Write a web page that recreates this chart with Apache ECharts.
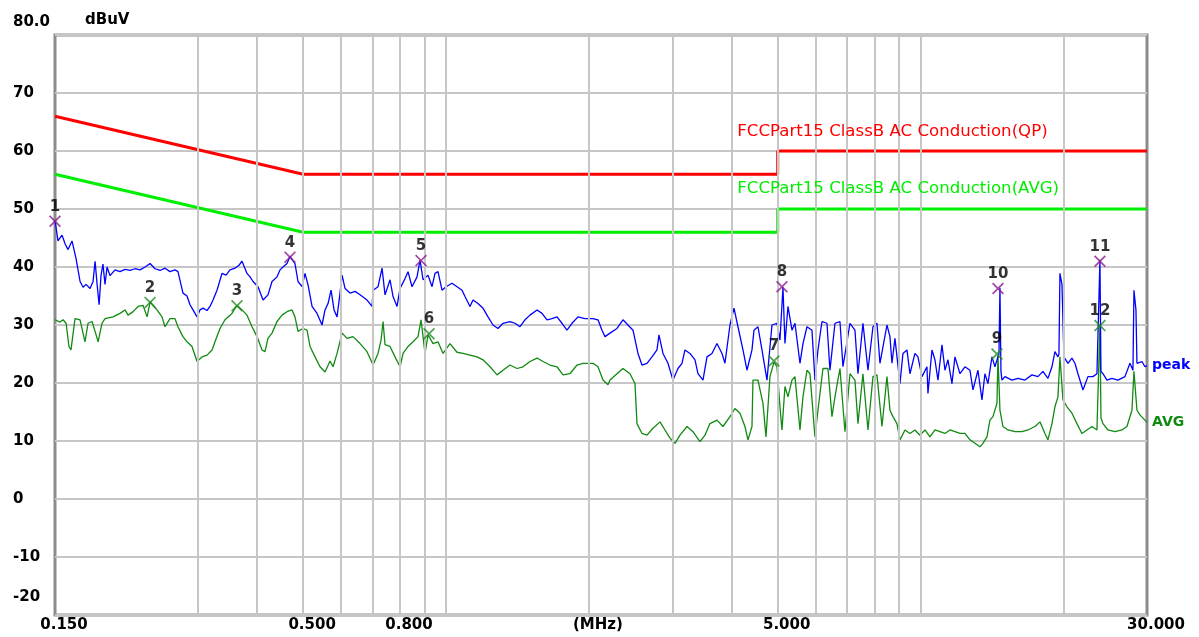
<!DOCTYPE html>
<html>
<head>
<meta charset="utf-8">
<title>Conducted emission</title>
<script src="https://cdn.jsdelivr.net/npm/echarts@6/dist/echarts.min.js"></script>
<style>
    html, body { margin: 0; padding: 0; background: #fff; }
    #chart { width: 1199px; height: 637px; }
</style>
</head>
<body>
<div id="chart"></div>
<script>
    // peak trace (MHz / dBuV)
    const peakFreq = [
        0.150,0.1522,0.1552,0.1575,0.1598,0.1629,0.1661,0.1694,0.1719,0.1744,
        0.1778,0.1804,0.1822,0.1840,0.1858,0.1875,0.1893,0.1912,0.1931,0.1959,
        0.2007,0.2056,0.2107,0.2159,0.2212,0.2266,0.2322,0.2379,0.2437,0.2497,
        0.2558,0.2621,0.2685,0.2724,0.2791,0.2846,0.2888,0.2930,0.2988,0.3031,
        0.3076,0.3136,0.3182,0.3229,0.3292,0.3373,0.3439,0.3506,0.3592,0.3663,
        0.3717,0.3808,0.3864,0.3921,0.4017,0.4116,0.4216,0.4299,0.4405,0.4469,
        0.4535,0.4624,0.4691,0.4806,0.4877,0.4973,0.5046,0.5120,0.5221,0.5349,
        0.5480,0.5560,0.5642,0.5725,0.5809,0.5894,0.5980,0.6039,0.6127,0.6277,
        0.6432,0.6590,0.6817,0.6985,0.7019,0.7191,0.7332,0.7439,0.7622,0.7734,
        0.7886,0.8001,0.8197,0.8318,0.8480,0.8689,0.8816,0.8946,0.9165,0.9345,
        0.9480,0.9619,0.9809,1.0001,1.0296,1.0549,1.0808,1.0966,1.1235,1.1400,
        1.1680,1.1966,1.2261,1.2562,1.2870,1.3186,1.3641,1.3976,1.4319,1.4670,
        1.5031,1.5551,1.5933,1.6323,1.6724,1.7135,1.7555,1.7986,1.8429,1.8973,
        1.9627,2.0405,2.0906,2.1316,2.1627,2.2158,2.2924,2.3601,2.4180,2.4775,
        2.5382,2.5880,2.6515,2.7167,2.7834,2.8104,2.8655,2.9359,3.0080,3.0818,
        3.1423,3.1882,3.2665,3.3467,3.3959,3.4793,3.5475,3.6346,3.7238,3.8153,
        3.8710,3.9661,4.0440,4.1232,4.2245,4.3073,4.4130,4.4559,4.5433,4.6325,
        4.7462,4.8627,4.9822,5.0549,5.1292,5.1790,5.2551,5.3582,5.4365,5.5700,
        5.6519,5.7626,5.9042,5.9904,6.0785,6.1976,6.3498,6.4426,6.6008,6.7629,
        6.8623,7.0991,7.2734,7.3803,7.5615,7.7472,7.9374,8.0930,8.2113,8.4953,
        8.6195,8.7040,8.8311,9.0480,9.1810,9.3610,9.4977,9.7309,9.8740,10.068,
        10.315,10.365,10.569,10.723,10.881,11.094,11.256,11.421,11.645,11.816,
        12.106,12.403,12.707,12.894,13.210,13.470,13.666,13.867,14.139,14.346,
        14.557,14.628,14.698,14.770,14.842,15.059,15.580,16.040,16.594,17.168,
        17.674,18.108,18.553,18.917,19.193,19.475,19.569,19.665,19.858,20.050,
        20.443,20.844,21.149,21.460,21.987,22.526,23.079,23.532,23.759,23.876,
        23.992,24.227,24.702,25.309,26.055,26.955,27.617,28.023,28.159,28.435,
        28.572,29.274,29.701,30.0
    ];
    const peakLevel = [
        48,44.5,45.5,44,43,44.5,41.5,37.5,36.5,37,
        36.3,37.5,41,37,33.5,38.5,40.5,37,40,38.5,
        39.5,39.2,39.6,39.4,39.7,39.5,40,40.6,39.7,39.4,
        39.8,39.2,39.5,39.2,35.5,35,33.5,32.6,31.4,32.6,
        32.9,32.5,33.2,34.3,36,38.9,38.6,39.5,39.8,40.3,
        41,38.9,38.3,37.5,36.6,34.3,35.2,37.5,38.3,39.5,
        40,40.6,41.8,40.6,37.5,36.6,38.9,36.9,33.2,32,
        30,32.6,33.7,36,32.6,31.4,35.5,38.6,36.3,35.5,
        35.8,35.2,34.3,33.2,36,36.6,39.8,35.2,37.8,34.9,
        33.2,36.3,38,39.2,36.6,38.3,41.2,37.8,38.6,36.6,
        38.9,39.2,36,36.6,37.2,36.6,36,34.9,33.2,34.3,
        33.7,32.9,31.4,30,29.4,30.3,30.6,30.3,29.7,30.9,
        31.7,32.6,32,30.9,31.1,31.4,30.3,29.1,30.3,31.4,
        31.1,31.1,30.9,29.1,28,28.6,29.4,30.9,30,29.1,
        25.1,23.1,23.4,24.5,25.7,28.3,25.1,23.4,20.5,22.5,
        23.4,25.7,25.1,24,21.6,20.5,24.5,25.1,26.8,25.1,
        23.4,30,32.9,29.7,25.7,22.2,25.7,29.1,29.7,25.7,
        20.5,30,30.3,27.4,36.5,26.8,33.2,29.1,30.3,23.4,
        26.8,29.7,29.1,20.5,25.7,30.6,30.3,22.2,30.3,30.6,
        22.8,30.3,29.1,21.6,30.3,22.2,29.7,30.3,23.4,30,
        28,23.4,27.7,19.9,25.1,25.7,21.6,25.1,24.5,21.1,
        22.8,18.2,25.7,24,20.5,26.6,22.2,24,19.9,24.5,
        21.6,22.8,22.2,18.8,22.2,17.1,21.6,19.9,24.5,22.8,
        24.5,25,36.4,22,20.5,21.1,20.5,20.8,20.5,21.4,
        21.1,22,20.8,22.8,25.4,24.5,25,38.9,37,24.5,
        23.4,24.3,23.4,21.6,18.8,21.1,21.1,21.6,21.6,41.2,
        22,21.6,20.5,20.8,20.5,21.1,23.4,22.2,36,32.6,
        23.4,23.7,22.8,23
    ];

    // average trace
    const avgFreq = [
        0.150,0.1537,0.1560,0.1583,0.1605,0.1621,0.1653,0.1694,0.1735,0.1761,
        0.1795,0.1822,0.1849,0.1884,0.1912,0.1988,0.2056,0.2107,0.2138,0.2191,
        0.2245,0.2299,0.2345,0.2379,0.2414,0.2461,0.2521,0.2558,0.2621,0.2685,
        0.2724,0.2791,0.2846,0.2916,0.2988,0.3061,0.3136,0.3213,0.3260,0.3340,
        0.3422,0.3540,0.3627,0.3717,0.3808,0.3902,0.3998,0.4096,0.4155,0.4216,
        0.4299,0.4405,0.4513,0.4624,0.4737,0.4806,0.4877,0.4997,0.5095,0.5170,
        0.5297,0.5427,0.5560,0.5697,0.5781,0.5894,0.6039,0.6187,0.6369,0.6590,
        0.6817,0.7019,0.7191,0.7297,0.7368,0.7439,0.7622,0.7809,0.8001,0.8119,
        0.8318,0.8521,0.8731,0.8859,0.9032,0.9165,0.9390,0.9619,0.9857,1.0196,
        1.0549,1.0860,1.1235,1.1624,1.1966,1.2380,1.2808,1.3186,1.3641,1.4113,
        1.4529,1.5031,1.5551,1.6010,1.6562,1.7135,1.7641,1.8250,1.8881,1.9439,
        2.0405,2.0906,2.1419,2.1945,2.2158,2.2924,2.3601,2.4416,2.5015,2.5260,
        2.5880,2.6515,2.7298,2.8240,2.8934,2.9644,3.0372,3.1118,3.2194,3.3145,
        3.4289,3.5131,3.5993,3.7238,3.8338,3.9661,4.0635,4.1633,4.2655,4.3282,
        4.4130,4.4344,4.5433,4.6549,4.7231,4.8155,4.9101,4.9822,5.0549,5.1044,
        5.1790,5.2551,5.3582,5.4365,5.5700,5.6519,5.7626,5.8469,5.9904,6.0785,
        6.2277,6.3806,6.5057,6.6008,6.7629,6.9289,7.0991,7.2734,7.3803,7.5615,
        7.7472,7.9374,8.0930,8.2918,8.4953,8.6195,8.7462,8.9177,9.0480,9.2701,
        9.4977,9.7309,9.9699,10.215,10.466,10.723,10.986,11.256,11.532,11.816,
        12.106,12.403,12.707,13.019,13.339,13.535,13.800,14.002,14.208,14.487,
        14.557,14.698,14.914,15.280,15.808,16.355,16.838,17.418,17.846,18.284,
        18.553,18.917,19.193,19.475,19.665,19.954,20.344,20.844,21.356,21.880,
        22.418,22.968,23.532,23.759,23.876,23.992,24.227,24.822,25.678,26.567,
        27.219,27.888,28.159,28.572,28.990,29.701,30.0
    ];
    const avgLevel = [
        30.9,30.5,30.9,30.3,26.3,25.7,31.1,30.9,27.1,30.3,
        30.6,28.9,27.1,30.3,31.1,31.4,32,32.6,31.7,32.3,
        33.2,33.4,31.4,34,33.4,32.6,31.4,29.7,31.1,31.1,
        29.7,28,27.1,26.3,23.7,24.5,24.8,25.7,27.1,29.4,
        30.9,32,33.4,32.6,31.7,29.7,28,25.7,25.4,27.7,
        28.6,30.6,31.7,32.3,32.6,31.4,28.9,29.4,29.1,26.3,
        24.5,22.8,21.9,23.8,22.8,25.1,28.6,27.7,28,26.8,
        25.4,23.1,25.1,27.4,30.6,26.6,26.3,24.5,22.8,25.1,
        26.3,27.1,28,30.9,25.1,28.3,26.8,27.1,25.1,26.8,
        25.3,25.1,24.8,24.5,24,22.8,21.4,22.2,23.1,22.5,
        22.8,23.7,24.3,23.7,23.1,22.8,21.4,21.6,23.1,23.4,
        23.4,22.8,20.5,19.7,20.5,21.6,22.5,21.6,19.9,13,
        11.3,11,12.2,13.3,11.9,10.5,9.6,11,12.5,11.6,
        9.9,11,13,13.6,12.5,14.2,15.6,14.8,12.5,10.2,
        12.5,20.5,20.5,16.5,10.7,21.1,23.6,22.8,15.9,11.9,
        19.4,17.6,20.5,21.1,11.9,17.6,22.2,21.6,10.7,15.3,
        22.5,22.5,14.2,17.6,22.5,11.6,21.6,20.5,13,21.6,
        11.9,21.1,21.4,12.5,21.1,15.3,14.2,13,10.2,11.9,
        11.3,11.9,11,11.9,10.7,11.9,11.6,11.3,11.9,11.6,
        11.3,11.3,10.2,9.6,9,9.6,10.7,13.6,14.2,16.5,
        24.7,15.3,12.5,11.9,11.6,11.6,11.9,12.5,13.3,11.3,
        10.2,13,15.9,17.6,24.5,17.1,15.9,14.8,13,11.3,
        11.9,12.5,11.9,12,30,14,13,11.9,11.6,11.9,
        12.5,15.3,22,15.3,14.5,13.6,13.2
    ];

    // limit lines
    const limitFreq = [0.15, 0.5, 5, 5, 30];
    const qpLimit = [66, 56, 56, 60, 60];
    const avgLimit = [56, 46, 46, 50, 50];
    const qpName = 'FCCPart15 ClassB AC Conduction(QP)';
    const avgName = 'FCCPart15 ClassB AC Conduction(AVG)';

    // marked points
    const peakMarkFreq = [0.150, 0.4691, 0.8859, 5.1044, 14.557, 23.876];
    const peakMarkLevel = [47.9, 41.7, 41.1, 36.6, 36.3, 41.0];
    const peakMarkIds = ['1', '4', '5', '8', '10', '11'];
    const avgMarkFreq = [0.2379, 0.3627, 0.9209, 4.9101, 14.487, 23.876];
    const avgMarkLevel = [33.9, 33.3, 28.5, 23.8, 25.0, 29.9];
    const avgMarkIds = ['2', '3', '6', '7', '9', '12'];

    // axis grid and labels
    const gridFreq = [0.3, 0.4, 0.5, 0.6, 0.7, 0.8, 0.9, 1, 2, 3, 4, 5, 6, 7, 8, 9, 10, 20];
    const xLabelFreq = [0.15, 0.5, 0.8, 2, 5, 30];
    const xLabelText = ['0.150', '0.500', '0.800', '(MHz)', '5.000', '30.000'];

    const FONT = 'DejaVu Sans';
    const xMark = 'path://M0,1L1,0L5,4L9,0L10,1L6,5L10,9L9,10L5,6L1,10L0,9L4,5Z';

    function zip(xs, ys) {
        return xs.map(function (x, i) { return [x, ys[i]]; });
    }

    let chart = echarts.init(document.getElementById('chart'));

    const markLabel = function (ids) {
        return {
            show: true,
            position: 'top',
            distance: 1,
            color: '#000',
            fontFamily: FONT,
            fontWeight: 'bold',
            fontSize: 15,
            formatter: function (p) { return ids[p.dataIndex]; }
        };
    };

    const option = {
        animation: false,
        backgroundColor: '#fff',
        grid: {
            left: 55, right: 52, top: 35, bottom: 22,
            show: true,
            borderColor: '#8c8c8c',
            borderWidth: 3,
            backgroundColor: '#fff'
        },
        xAxis: {
            type: 'log',
            logBase: 10,
            min: 0.15,
            max: 30,
            axisLine: { show: false },
            axisTick: { show: false },
            axisLabel: { show: false },
            splitLine: { show: false }
        },
        yAxis: {
            type: 'value',
            min: -20,
            max: 80,
            interval: 10,
            name: 'dBuV',
            nameLocation: 'end',
            nameGap: 7,
            nameTextStyle: {
                align: 'left',
                padding: [0, 0, 0, 30],
                color: '#000',
                fontFamily: FONT,
                fontWeight: 'bold',
                fontSize: 15
            },
            axisLine: { show: false },
            axisTick: { show: false },
            splitLine: { lineStyle: { color: '#c6c6c6', width: 2 } },
            axisLabel: {
                align: 'left',
                margin: 42,
                color: '#000',
                fontFamily: FONT,
                fontWeight: 'bold',
                fontSize: 15,
                formatter: function (v) {
                    if (v === 80) return '{hi|80.0}';
                    if (v === -20) return '{lo|-20}';
                    return String(v);
                },
                rich: {
                    hi: { padding: [0, 0, 26, 0], color: '#000', fontFamily: FONT, fontWeight: 'bold', fontSize: 15 },
                    lo: { padding: [0, 0, 36, 0], color: '#000', fontFamily: FONT, fontWeight: 'bold', fontSize: 15 }
                }
            }
        },
        series: [
            {
                name: 'grid',
                type: 'line',
                data: [[0.15, -20]],
                symbol: 'none',
                silent: true,
                z: 1,
                markLine: {
                    silent: true,
                    symbol: ['none', 'none'],
                    animation: false,
                    data: gridFreq.map(function (f) {
                        return { xAxis: f, label: { show: false }, lineStyle: { color: '#c6c6c6', width: 2, type: 'solid' } };
                    }).concat(xLabelFreq.map(function (f, i) {
                        return {
                            xAxis: f,
                            lineStyle: { color: 'rgba(0,0,0,0)', width: 1 },
                            label: {
                                show: true,
                                position: 'start',
                                distance: 3,
                                padding: [0, 0, 0, 18],
                                formatter: xLabelText[i],
                                color: '#000',
                                fontFamily: FONT,
                                fontWeight: 'bold',
                                fontSize: 15
                            }
                        };
                    }))
                }
            },
            {
                name: 'QP limit',
                type: 'line',
                data: zip(limitFreq, qpLimit),
                symbol: 'none',
                z: 2,
                lineStyle: { color: '#ff0000', width: 3 },
                markPoint: {
                    symbol: 'circle',
                    symbolSize: 1,
                    itemStyle: { color: 'rgba(0,0,0,0)' },
                    data: [{ coord: [4.1, 60] }],
                    label: {
                        show: true,
                        position: 'right',
                        distance: 0,
                        offset: [0, -19],
                        formatter: qpName,
                        color: '#ff0000',
                        fontFamily: FONT,
                        fontSize: 16.6
                    }
                }
            },
            {
                name: 'AVG limit',
                type: 'line',
                data: zip(limitFreq, avgLimit),
                symbol: 'none',
                z: 2,
                lineStyle: { color: '#00ee00', width: 3 },
                markPoint: {
                    symbol: 'circle',
                    symbolSize: 1,
                    itemStyle: { color: 'rgba(0,0,0,0)' },
                    data: [{ coord: [4.1, 50] }],
                    label: {
                        show: true,
                        position: 'right',
                        distance: 0,
                        offset: [0, -20],
                        formatter: avgName,
                        color: '#00ee00',
                        fontFamily: FONT,
                        fontSize: 16.6
                    }
                }
            },
            {
                name: 'AVG',
                type: 'line',
                data: zip(avgFreq, avgLevel),
                symbol: 'none',
                z: 3,
                lineStyle: { color: '#118a11', width: 1.3 },
                endLabel: {
                    show: true,
                    formatter: 'AVG',
                    distance: 5,
                    color: '#118a11',
                    fontFamily: FONT,
                    fontWeight: 'bold',
                    fontSize: 14
                }
            },
            {
                name: 'peak',
                type: 'line',
                data: zip(peakFreq, peakLevel),
                symbol: 'none',
                z: 4,
                lineStyle: { color: '#0000ff', width: 1.3 },
                endLabel: {
                    show: true,
                    formatter: 'peak',
                    distance: 5,
                    color: '#0000ff',
                    fontFamily: FONT,
                    fontWeight: 'bold',
                    fontSize: 14
                }
            },
            {
                name: 'peak marks',
                type: 'scatter',
                data: zip(peakMarkFreq, peakMarkLevel),
                symbol: xMark,
                symbolSize: 12,
                clip: false,
                z: 6,
                itemStyle: { color: '#8b1a8b' },
                label: markLabel(peakMarkIds)
            },
            {
                name: 'avg marks',
                type: 'scatter',
                data: zip(avgMarkFreq, avgMarkLevel),
                symbol: xMark,
                symbolSize: 12,
                clip: false,
                z: 6,
                itemStyle: { color: '#1f8a1f' },
                label: markLabel(avgMarkIds)
            }
        ]
    };

    chart.setOption(option);

    window.addEventListener('resize', function () {
        chart.resize();
    });
</script>
</body>
</html>
